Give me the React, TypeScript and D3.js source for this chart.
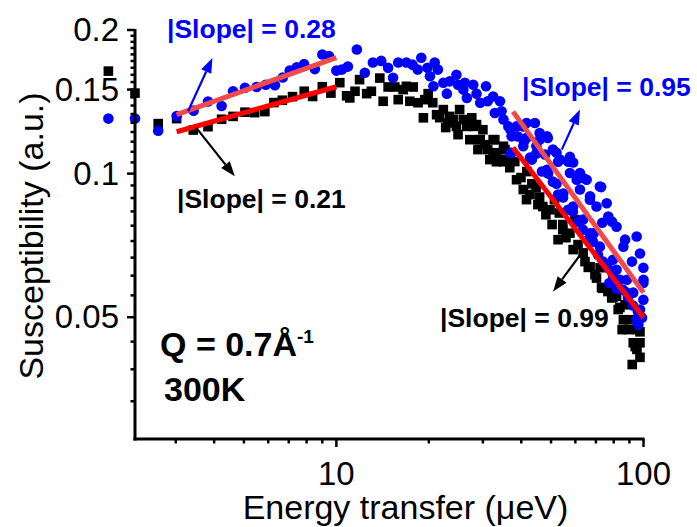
import React from 'react';
import * as d3 from 'd3';

const W = 697;
const H = 527;
const FONT = "'Liberation Sans', Arial, Helvetica, sans-serif";

// axis ranges (log-log)
const xDomain = [2.21, 100];
const yDomain = [0.02778, 0.2];

const xMajorTicks = [10, 100];
const xTickLabels = ['10', '100'];
const xMinorTicks = [3, 4, 5, 6, 7, 8, 9, 20, 30, 40, 50, 60, 70, 80, 90];
const yMajorTicks = [0.05, 0.1, 0.15, 0.2];
const yTickLabels = ['0.05', '0.1', '0.15', '0.2'];

// [energy (ueV), susceptibility (a.u.)]
const blackPoints = [
  [1.81, 0.164], [2.21, 0.1475], [2.63, 0.1273], [3.02, 0.1304], [3.42, 0.1234], [3.82, 0.1254],
  [4.23, 0.13], [4.61, 0.1318], [5.04, 0.1345], [5.42, 0.1342], [5.85, 0.1349], [6.26, 0.1409],
  [6.67, 0.1425], [7.2, 0.145], [7.86, 0.1488], [8.37, 0.1451], [9.0, 0.1521], [9.6, 0.1475],
  [10.26, 0.1551], [10.8, 0.1456], [11.06, 0.1441], [11.5, 0.1488], [11.9, 0.1574], [12.55, 0.1471],
  [13.0, 0.1488], [13.85, 0.1586], [14.2, 0.1418], [14.74, 0.1519], [15.5, 0.1519], [15.9, 0.1429],
  [16.5, 0.15], [16.9, 0.1524], [17.35, 0.1418], [17.8, 0.1519], [18.45, 0.1408], [19.2, 0.1309],
  [19.4, 0.1429], [19.9, 0.1471], [20.6, 0.1408], [21.2, 0.1329], [21.7, 0.131], [22.3, 0.1362],
  [22.7, 0.1249], [23.1, 0.1277], [23.4, 0.1318], [24.0, 0.1298], [24.6, 0.1256], [24.9, 0.1207],
  [25.2, 0.1362], [25.9, 0.1298], [26.6, 0.1256], [27.2, 0.1178], [27.6, 0.1309], [27.9, 0.1256],
  [28.6, 0.1267], [28.9, 0.1123], [29.0, 0.1178], [29.4, 0.1178], [30.0, 0.1236], [30.5, 0.115],
  [31.1, 0.1123], [31.6, 0.107], [32.4, 0.1178], [32.4, 0.1106], [32.8, 0.1178], [33.2, 0.1106],
  [33.2, 0.1059], [34.1, 0.107], [35.0, 0.1141], [35.0, 0.1059], [35.4, 0.1123], [35.9, 0.107],
  [36.7, 0.1029], [38.1, 0.106], [38.6, 0.0971], [39.9, 0.0981], [40.6, 0.0926], [41.6, 0.0882],
  [41.7, 0.101], [42.7, 0.0904], [43.3, 0.0952], [44.7, 0.0935], [45.3, 0.0861], [45.9, 0.0893],
  [47.0, 0.0853], [48.1, 0.082], [49.6, 0.084], [50.4, 0.0782], [51.3, 0.0882], [52.7, 0.0727],
  [53.2, 0.0827], [54.6, 0.0782], [54.6, 0.0763], [55.9, 0.0734], [57.6, 0.075], [59.0, 0.0693],
  [59.8, 0.0801], [61.2, 0.071], [63.6, 0.0682], [64.5, 0.0654], [66.1, 0.0636], [67.0, 0.0638],
  [69.5, 0.0614], [70.3, 0.0604], [72.2, 0.0635], [73.0, 0.0577], [73.7, 0.0575], [75.9, 0.0577],
  [76.6, 0.0566], [78.8, 0.0549], [79.5, 0.055], [80.8, 0.0585], [81.7, 0.0553], [82.7, 0.0519],
  [83.8, 0.0524], [85.2, 0.0471], [86.0, 0.0494], [87.1, 0.0531], [89.0, 0.0471], [90.0, 0.0494],
  [91.9, 0.0398], [92.6, 0.0442], [94.0, 0.0434], [95.0, 0.0471], [95.2, 0.0428], [97.4, 0.0442],
  [97.4, 0.0466], [97.4, 0.0412],
];

const bluePoints = [
  [1.81, 0.1304], [2.21, 0.1304], [2.63, 0.123], [3.02, 0.132], [3.43, 0.1355], [3.82, 0.1416],
  [4.23, 0.1386], [4.61, 0.1488], [5.04, 0.1514], [5.5, 0.1519], [5.89, 0.1536], [6.31, 0.1532],
  [6.69, 0.159], [7.05, 0.1644], [7.43, 0.1671], [7.85, 0.1696], [8.51, 0.1656], [9.0, 0.1777],
  [9.47, 0.1763], [10.0, 0.1644], [10.42, 0.1652], [10.9, 0.1676], [11.66, 0.182], [12.38, 0.1627],
  [13.15, 0.171], [14.0, 0.1723], [14.74, 0.1666], [15.3, 0.1588], [15.9, 0.171], [16.9, 0.171],
  [17.7, 0.1692], [18.4, 0.1652], [18.9, 0.1749], [19.8, 0.1666], [20.17, 0.16], [20.7, 0.1524],
  [20.9, 0.171], [21.4, 0.1652], [22.3, 0.1551], [22.9, 0.1471], [23.4, 0.1561], [24.6, 0.1612],
  [24.9, 0.1536], [25.9, 0.15], [26.2, 0.1551], [26.6, 0.1441], [27.9, 0.1536], [28.6, 0.1471],
  [29.4, 0.1408], [30.7, 0.1524], [31.1, 0.1418], [32.4, 0.1451], [32.8, 0.134], [34.1, 0.1418],
  [34.5, 0.1351], [35.0, 0.1298], [36.3, 0.1256], [36.9, 0.1236], [36.9, 0.1105], [37.2, 0.1197],
  [37.2, 0.1106], [38.6, 0.1256], [39.0, 0.1196], [40.6, 0.1256], [40.6, 0.1141], [40.8, 0.1167],
  [41.6, 0.1188], [41.6, 0.1277], [42.7, 0.108], [43.3, 0.107], [44.3, 0.1277], [44.7, 0.1101],
  [44.8, 0.1141], [45.9, 0.1217], [45.9, 0.1178], [46.7, 0.101], [47.8, 0.1096], [48.5, 0.1197],
  [48.5, 0.1019], [48.8, 0.1188], [48.9, 0.1], [50.7, 0.1123], [50.7, 0.0962], [52.1, 0.1106],
  [52.1, 0.0952], [52.7, 0.1059], [52.7, 0.0904], [53.5, 0.107], [54.7, 0.0891], [54.8, 0.0908],
  [56.8, 0.084], [56.9, 0.1059], [57.6, 0.1003], [57.6, 0.1084], [58.9, 0.0833], [59.0, 0.1055],
  [59.0, 0.0853], [60.6, 0.0971], [61.2, 0.0793], [62.1, 0.0926], [62.1, 0.1003], [63.5, 0.0763],
  [63.6, 0.0979], [63.6, 0.0801], [65.3, 0.0971], [66.0, 0.0727], [66.9, 0.0882], [67.0, 0.0896],
  [67.0, 0.075], [68.5, 0.072], [68.9, 0.075], [70.3, 0.0853], [71.1, 0.0676], [72.1, 0.094],
  [72.1, 0.0703], [72.8, 0.0937], [73.4, 0.0789], [73.8, 0.0654], [75.9, 0.0867], [76.6, 0.0635],
  [76.8, 0.0813], [77.4, 0.059], [79.0, 0.0793], [79.5, 0.066], [79.6, 0.0611], [81.7, 0.0774],
  [81.7, 0.0629], [81.7, 0.0574], [82.6, 0.0594], [83.8, 0.0599], [85.7, 0.0571], [86.0, 0.0703],
  [87.1, 0.0727], [88.3, 0.0599], [88.3, 0.0563], [89.0, 0.055], [91.7, 0.0654], [92.4, 0.0529],
  [92.6, 0.0563], [95.0, 0.0738], [95.0, 0.0494], [95.9, 0.0514], [96.2, 0.0482], [97.4, 0.068],
  [97.4, 0.0519], [98.9, 0.0499], [99.9, 0.0635], [99.9, 0.059], [99.9, 0.0544], [100, 0.0599],
];

// power-law fit segments, endpoints [E, S]
const blueFitLow = [[3.02, 0.1329], [10.0, 0.1751]];
const blackFitLow = [[3.02, 0.1224], [10.0, 0.1521]];
const blueFitHigh = [[37.6, 0.1349], [100, 0.0563]];
const blackFitHigh = [[37.6, 0.1134], [100, 0.0499]];

// arrows: [tail, tip] in data coords
const arrowBlueLow = [[3.29, 0.1351], [3.95, 0.1748]];
const arrowBlackLow = [[3.5, 0.1247], [4.67, 0.0987]];
const arrowBlueHigh = [[54.2, 0.1123], [62.1, 0.1362]];
const arrowBlackHigh = [[62.9, 0.0682], [50.8, 0.0566]];

const BLUE = '#0000ff';
const FIT_BLUE = '#f04a4a';
const FIT_BLACK = '#ff0000';

function Arrow({ pts, x, y, color }) {
  const [x1, y1] = [x(pts[0][0]), y(pts[0][1])];
  const [x2, y2] = [x(pts[1][0]), y(pts[1][1])];
  const ang = Math.atan2(y2 - y1, x2 - x1);
  const len = 15, half = 5.5;
  const bx = x2 - len * Math.cos(ang), by = y2 - len * Math.sin(ang);
  const nx = -Math.sin(ang), ny = Math.cos(ang);
  const head = [[x2, y2], [bx + nx * half, by + ny * half], [bx - nx * half, by - ny * half]];
  return (
    <g>
      <line x1={x1} y1={y1} x2={bx} y2={by} stroke={color} strokeWidth={2.2} />
      <polygon points={head.map(p => p.join(',')).join(' ')} fill={color} />
    </g>
  );
}

export default function App() {
  const left = 135, right = 643.5, top = 30, bottom = 439;
  const x = d3.scaleLog().domain(xDomain).range([left, right]);
  const y = d3.scaleLog().domain(yDomain).range([bottom, top]);

  // minor y ticks: 8 per 0.05 step, linear in value
  const yMinorTicks = [];
  for (let k = 0; k < 4; k++) {
    for (let j = 1; j < 9; j++) {
      const v = 0.05 * k + (0.05 * j) / 9;
      if (v > yDomain[0] && v < yDomain[1]) yMinorTicks.push(v);
    }
  }

  const fitLine = d3.line().x(d => x(d[0])).y(d => y(d[1]));

  return (
    <div>
      <style>{`body{margin:0}`}</style>
      <svg width={W} height={H} style={{ display: 'block', background: '#fff' }} fontFamily={FONT}>
        {/* data */}
        <g>
          {blackPoints.map((d, i) => (
            <rect key={'b' + i} x={x(d[0]) - 4.8} y={y(d[1]) - 4.8} width={9.6} height={9.6} fill="#000" />
          ))}
        </g>
        <g>
          {bluePoints.map((d, i) => (
            <circle key={'c' + i} cx={x(d[0])} cy={y(d[1])} r={5.3} fill={BLUE} />
          ))}
        </g>

        {/* fits */}
        <path d={fitLine(blueFitLow)} stroke={FIT_BLUE} strokeWidth={5} fill="none" />
        <path d={fitLine(blackFitLow)} stroke={FIT_BLACK} strokeWidth={5} fill="none" />
        <path d={fitLine(blueFitHigh)} stroke={FIT_BLUE} strokeWidth={5} fill="none" />
        <path d={fitLine(blackFitHigh)} stroke={FIT_BLACK} strokeWidth={5} fill="none" />

        {/* arrows */}
        <Arrow pts={arrowBlueLow} x={x} y={y} color={BLUE} />
        <Arrow pts={arrowBlackLow} x={x} y={y} color="#000" />
        <Arrow pts={arrowBlueHigh} x={x} y={y} color={BLUE} />
        <Arrow pts={arrowBlackHigh} x={x} y={y} color="#000" />

        {/* axes */}
        <line x1={left} y1={top - 1} x2={left} y2={bottom + 1.5} stroke="#000" strokeWidth={3} />
        <line x1={left - 1.5} y1={bottom} x2={right + 1} y2={bottom} stroke="#000" strokeWidth={3} />
        {yMajorTicks.map((t, i) => (
          <g key={'ym' + i}>
            <line x1={left - 8} x2={left} y1={y(t)} y2={y(t)} stroke="#000" strokeWidth={2.5} />
            <text x={119} y={y(t) + 11} fontSize={33} textAnchor="end">{yTickLabels[i]}</text>
          </g>
        ))}
        {yMinorTicks.map((t, i) => (
          <line key={'yn' + i} x1={left - 4.5} x2={left} y1={y(t)} y2={y(t)} stroke="#000" strokeWidth={2.5} />
        ))}
        {xMajorTicks.map((t, i) => (
          <g key={'xm' + i}>
            <line x1={x(t)} x2={x(t)} y1={bottom} y2={bottom + 8} stroke="#000" strokeWidth={2.5} />
            <text x={x(t)} y={485} fontSize={33} textAnchor="middle">{xTickLabels[i]}</text>
          </g>
        ))}
        {xMinorTicks.map((t, i) => (
          <line key={'xn' + i} x1={x(t)} x2={x(t)} y1={bottom} y2={bottom + 4.5} stroke="#000" strokeWidth={2.5} />
        ))}

        {/* axis titles */}
        <text x={405.5} y={519} fontSize={34} textAnchor="middle">Energy transfer (μeV)</text>
        <text transform="translate(43,236) rotate(-90)" fontSize={34} textAnchor="middle">Susceptibility (a.u.)</text>

        {/* annotations */}
        <g fontWeight="bold" fontSize={26.5}>
          <text x={167} y={38} fill={BLUE}>|Slope| = 0.28</text>
          <text x={177} y={208} fill="#000">|Slope| = 0.21</text>
          <text x={522} y={96} fill={BLUE}>|Slope| = 0.95</text>
          <text x={440} y={327} fill="#000">|Slope| = 0.99</text>
        </g>
        <text x={160} y={356} fontSize={34} fontWeight="bold">
          Q = 0.7Å<tspan dy={-13} fontSize={19}>-1</tspan>
        </text>
        <text x={164} y={401} fontSize={34} fontWeight="bold">300K</text>
      </svg>
    </div>
  );
}
